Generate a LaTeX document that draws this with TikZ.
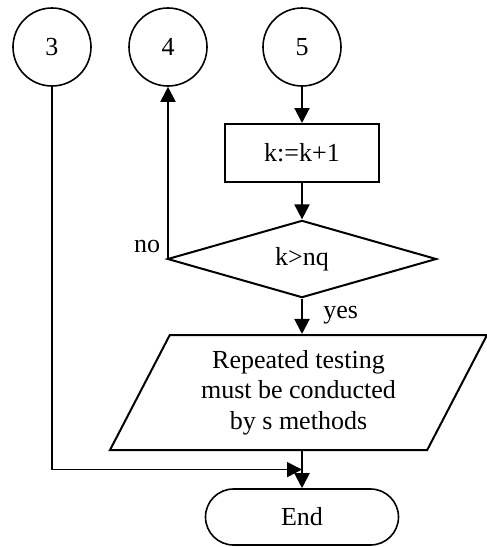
\documentclass[tikz,border=0pt]{standalone}
\usepackage{fontspec}
\setmainfont{Liberation Serif}
\usepackage{tikz}
\usetikzlibrary{shapes.geometric, arrows.meta, calc}
\tikzstyle{connector} = [circle, minimum size=39pt, inner sep=0pt, text centered, draw=black, line width=0.8pt]
\tikzstyle{process} = [rectangle, minimum width=77pt, minimum height=29pt, text centered, draw=black, line width=1pt]
\tikzstyle{decision} = [diamond, minimum width=134.5pt, minimum height=38pt, inner sep=0pt, text centered, draw=black, line width=1pt]
\tikzstyle{inout} = [trapezium, trapezium left angle=56, trapezium right angle=124, trapezium stretches body=true, minimum width=188.5pt, minimum height=57.5pt, inner sep=1pt, align=center, draw=black, line width=1pt]
\tikzstyle{terminator} = [rectangle, rounded corners=14pt, minimum width=96.5pt, minimum height=28pt, text centered, draw=black, line width=0.8pt]
\tikzstyle{arrow} = [line width=1pt, -{Triangle[length=7.5pt,width=7.5pt]}]

\begin{document}
\begin{tikzpicture}[x=0.5pt, y=-0.5pt, font=\fontsize{13}{15.25}\selectfont]
        \useasboundingbox (0,0) rectangle (487,547);
        \node (c3) [connector] at (52,47) {3};
        \node (c4) [connector] at (168,47) {4};
        \node (c5) [connector] at (302,47) {5};
        \node (inc) [process] at (302,153) {k:=k+1};
        \node (test) [decision] at (302,259) {k>nq};
        \node (repeat) [inout] at (298.5,392.5) {Repeated testing\\must be conducted\\by s methods};
        \node (stop) [terminator] at (302,517) {End};
        \coordinate (join) at ($(repeat.south -| stop)!0.5!(stop.north)$);

        \draw [arrow] (c5) -- (inc);
        \draw [arrow] (inc) -- (test);
        \draw [arrow] (test.west) -| (c4);
        \node [anchor=base east, inner sep=0pt] at ([xshift=-3pt, yshift=3.5pt]test.west) {no};
        \draw [arrow] (test) -- (test |- repeat.north);
        \node [anchor=base west, inner sep=0pt] at ([xshift=10.5pt, yshift=-10pt]test.south) {yes};
        \draw [arrow] (repeat.south -| stop) -- (stop);
        \draw [arrow, line width=0.8pt] (c3) |- (join);
    \end{tikzpicture}
\end{document}
